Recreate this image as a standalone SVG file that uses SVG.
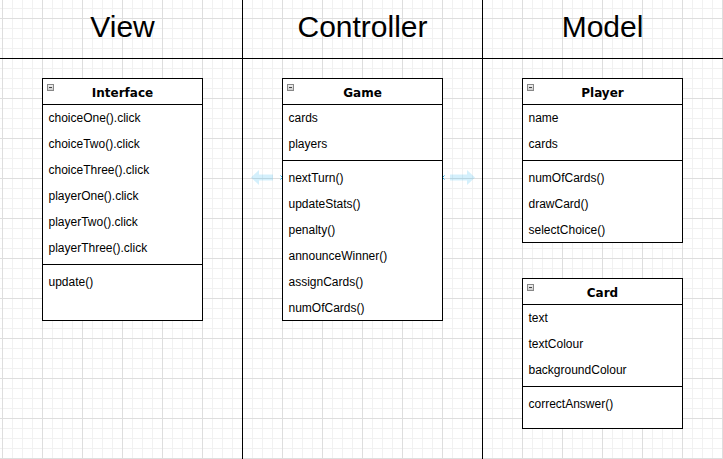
<svg xmlns="http://www.w3.org/2000/svg" width="723" height="459" viewBox="0 0 723 459">
<style>
.title{font-family:"Liberation Sans",Arial,sans-serif;font-size:30px;fill:#000;text-anchor:middle}
.hdr{font-family:"DejaVu Sans",Verdana,sans-serif;font-size:12px;font-weight:bold;fill:#000;text-anchor:middle}
.row{font-family:"Liberation Sans",Arial,sans-serif;font-size:12px;fill:#000}
.box{fill:#fff;stroke:#000;stroke-width:1}
.ln{stroke:#000;stroke-width:1;fill:none}
.icon{fill:url(#ig);stroke:#888;stroke-width:1}
.iconm{stroke:#444;stroke-width:1}
.harrow{fill:#29b6f2;fill-opacity:0.2}
.xm{stroke:#29b6f2;stroke-width:1;fill:none}
</style>
<defs>
<linearGradient id="ig" x1="0" y1="0" x2="0" y2="1">
<stop offset="0" stop-color="#f4f4f4"/>
<stop offset="1" stop-color="#c8c8c8"/>
</linearGradient>
<pattern id="grid" patternUnits="userSpaceOnUse" x="2" y="18" width="40" height="40">
<path d="M10.5 0V40M20.5 0V40M30.5 0V40M0 10.5H40M0 20.5H40M0 30.5H40" stroke="#f1f1f1" stroke-width="1"/>
<path d="M0.5 0V40M0 0.5H40" stroke="#dedede" stroke-width="1"/>
</pattern>
</defs>
<rect width="723" height="459" fill="#fff"/>
<rect width="723" height="459" fill="url(#grid)"/>

<g id="lanes">
<path class="ln" d="M242.5 0V459M482.5 0V459M0 58.5H723"/>
<text class="title" x="122.5" y="37">View</text>
<text class="title" x="362.5" y="37">Controller</text>
<text class="title" x="602.5" y="37">Model</text>
</g>

<g id="connectors">
<path class="harrow" d="M251 177.5L259 170V174.5H273V180.5H259V185Z"/>
<path class="harrow" d="M475 177.5L467 170V174.5H450V180.5H467V185Z"/>
<path class="xm" d="M280.5 175.5L284.5 179.5M284.5 175.5L280.5 179.5"/>
<path class="xm" d="M440.5 175.5L444.5 179.5M444.5 175.5L440.5 179.5"/>
</g>

<g id="Interface">
<rect class="box" x="42.5" y="78.5" width="160" height="242"/>
<path class="ln" d="M42.5 104.5H202.5M42.5 264.5H202.5"/>
<rect class="icon" x="47.5" y="84.5" width="6" height="6"/>
<path class="iconm" d="M49 87.5H52"/>
<text class="hdr" x="122.5" y="96.5">Interface</text>
<text class="row" x="48.5" y="121.5">choiceOne().click</text>
<text class="row" x="48.5" y="147.5">choiceTwo().click</text>
<text class="row" x="48.5" y="173.5">choiceThree().click</text>
<text class="row" x="48.5" y="199.5">playerOne().click</text>
<text class="row" x="48.5" y="225.5">playerTwo().click</text>
<text class="row" x="48.5" y="251.5">playerThree().click</text>
<text class="row" x="48.5" y="285.5">update()</text>
</g>

<g id="Game">
<rect class="box" x="282.5" y="78.5" width="160" height="242"/>
<path class="ln" d="M282.5 104.5H442.5M282.5 160.5H442.5"/>
<rect class="icon" x="287.5" y="84.5" width="6" height="6"/>
<path class="iconm" d="M289 87.5H292"/>
<text class="hdr" x="362.5" y="96.5">Game</text>
<text class="row" x="288.5" y="121.5">cards</text>
<text class="row" x="288.5" y="147.5">players</text>
<text class="row" x="288.5" y="181.5">nextTurn()</text>
<text class="row" x="288.5" y="207.5">updateStats()</text>
<text class="row" x="288.5" y="233.5">penalty()</text>
<text class="row" x="288.5" y="259.5">announceWinner()</text>
<text class="row" x="288.5" y="285.5">assignCards()</text>
<text class="row" x="288.5" y="311.5">numOfCards()</text>
</g>

<g id="Player">
<rect class="box" x="522.5" y="78.5" width="160" height="164"/>
<path class="ln" d="M522.5 104.5H682.5M522.5 160.5H682.5"/>
<rect class="icon" x="527.5" y="84.5" width="6" height="6"/>
<path class="iconm" d="M529 87.5H532"/>
<text class="hdr" x="602.5" y="96.5">Player</text>
<text class="row" x="528.5" y="121.5">name</text>
<text class="row" x="528.5" y="147.5">cards</text>
<text class="row" x="528.5" y="181.5">numOfCards()</text>
<text class="row" x="528.5" y="207.5">drawCard()</text>
<text class="row" x="528.5" y="233.5">selectChoice()</text>
</g>

<g id="Card">
<rect class="box" x="522.5" y="278.5" width="160" height="150"/>
<path class="ln" d="M522.5 304.5H682.5M522.5 386.5H682.5"/>
<rect class="icon" x="527.5" y="284.5" width="6" height="6"/>
<path class="iconm" d="M529 287.5H532"/>
<text class="hdr" x="602.5" y="296.5">Card</text>
<text class="row" x="528.5" y="321.5">text</text>
<text class="row" x="528.5" y="347.5">textColour</text>
<text class="row" x="528.5" y="373.5">backgroundColour</text>
<text class="row" x="528.5" y="407.5">correctAnswer()</text>
</g>
</svg>
